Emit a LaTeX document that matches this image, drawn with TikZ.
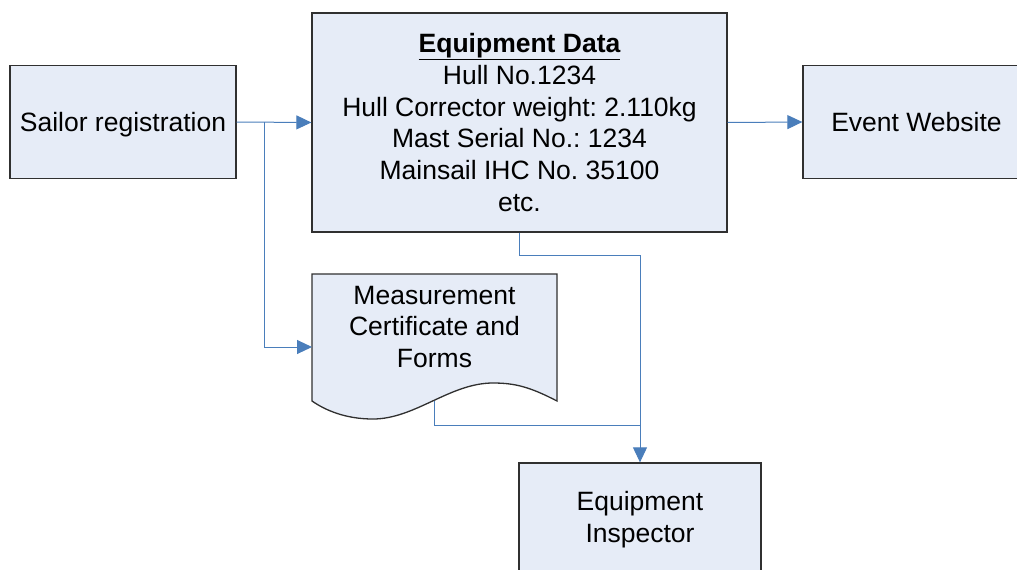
\documentclass[tikz,border=0pt]{standalone}
\usepackage{fontspec}
\setmainfont{Liberation Sans}
\usetikzlibrary{arrows.meta}
\definecolor{boxfill}{HTML}{E6ECF7}
\definecolor{linkblue}{HTML}{4A7EBB}
\definecolor{edge}{HTML}{303030}
\frenchspacing
\begin{document}
\begin{tikzpicture}[x=1pt,y=-1pt,
  txt/.style={font=\fontsize{26.5}{31.8}\selectfont, align=center, inner sep=0pt},
  box/.style={txt, draw=edge, line width=1.3pt, fill=boxfill},
  link/.style={draw=linkblue, line width=1pt, -{Triangle[length=15pt,width=14pt]}},
  plain/.style={draw=linkblue, line width=1pt}]
\clip (0,0) rectangle (1017,570);
\fill[white] (0,0) rectangle (1017,570);
\node[box, minimum width=226pt, minimum height=113pt, text depth=0pt] (sailor) at (123,122) {Sailor registration};
\node[box, minimum width=415pt, minimum height=219pt] (equip) at (519.5,122.5)
  {\textbf{\underline{Equipment Data}}\\Hull No.1234\\Hull Corrector weight: 2.110kg\\Mast Serial No.: 1234\\Mainsail IHC No. 35100\\etc.};
\node[box, minimum width=227pt, minimum height=113pt] (web) at (916.5,122) {Event Website};
\node[box, minimum width=242pt, minimum height=114pt] (insp) at (640,520) {Equipment\\Inspector};
% document shape
\path[draw=edge, line width=1.3pt, fill=boxfill]
  (312,274) -- (557,274) -- (557,401)
  .. controls (530,387) and (515,383) .. (493,383)
  .. controls (450,383) and (415,419) .. (373,419)
  .. controls (345,419) and (325,410) .. (312,401) -- cycle;
\node[txt] (doc) at (434.5,327) {Measurement\\Certificate and\\Forms};
\coordinate (docW) at (312,347);
\coordinate (docB) at (434,401);
\coordinate (br) at (264,122);
\coordinate (j1) at (640,255);
\coordinate (j2) at (640,425);
% connectors
\draw[link] (sailor.east) -- (equip.west);
\draw[link] (br) |- (docW);
\draw[link] (equip.east) -- (web.west);
\draw[link] (equip.south) |- (j1) -- (insp.north);
\draw[plain] (docB) |- (j2);
\end{tikzpicture}
\end{document}
